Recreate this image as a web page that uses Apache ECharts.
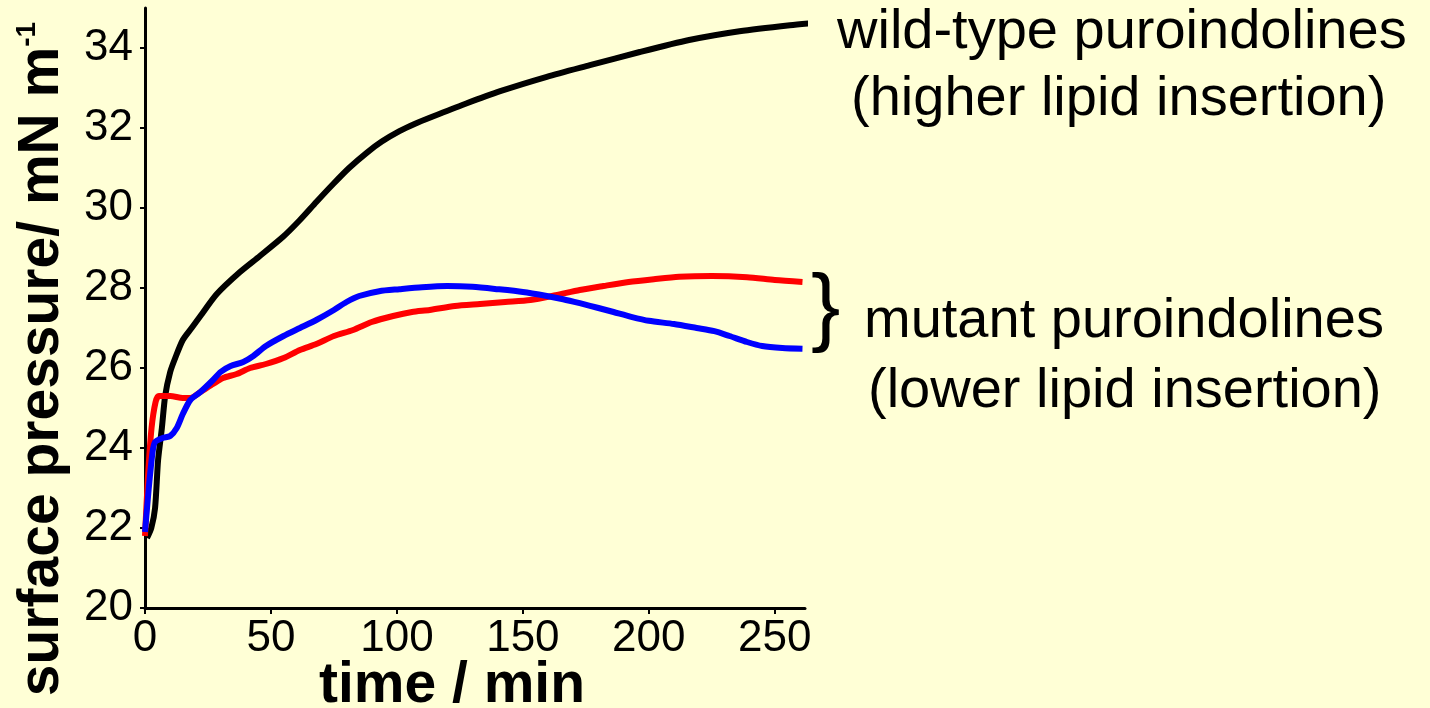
<!DOCTYPE html>
<html>
<head>
<meta charset="utf-8">
<script src="https://cdn.jsdelivr.net/npm/echarts@6/dist/echarts.min.js"></script>
<style>
  html, body { margin: 0; padding: 0; background: #ffffd6; }
  #chart { width: 1430px; height: 708px; }
</style>
</head>
<body>
<div id="chart"></div>
<script>
// ---- data (time in min, surface pressure in mN/m) ----
const xTicks = [0, 50, 100, 150, 200, 250];
const yTicks = [20, 22, 24, 26, 28, 30, 32, 34];

const wildType = [
  [0.8, 21.75], [2.5, 22.0], [4, 22.5], [5.2, 23.7], [6.7, 24.5], [8, 25.3],
  [10, 25.9], [12, 26.25], [15, 26.7], [18.5, 27.0], [22, 27.3], [28.5, 27.85],
  [37.7, 28.4], [45.6, 28.8], [54.8, 29.28], [61.5, 29.7], [68, 30.15],
  [74.7, 30.6], [81, 31.0], [88, 31.38], [94, 31.66], [101, 31.92],
  [107, 32.1], [114, 32.28], [127, 32.6], [141, 32.92], [159.5, 33.28],
  [176.6, 33.57], [196.4, 33.9], [216, 34.2], [236, 34.42], [256, 34.57],
  [268, 34.64]
];

const mutantRed = [
  [0, 21.8], [1.2, 23.3], [2.6, 24.5], [4.2, 25.15], [5.5, 25.3], [10, 25.3],
  [15, 25.25], [18, 25.25], [22, 25.4], [27, 25.6], [31, 25.75], [36.4, 25.85],
  [41.7, 26.0], [48, 26.1], [55, 26.25], [61.5, 26.45], [68, 26.6], [75, 26.8],
  [82.6, 26.95], [90, 27.15], [98.5, 27.3], [106, 27.4], [113, 27.45],
  [123, 27.55], [133, 27.6], [143, 27.65], [153, 27.7], [163, 27.82],
  [172.6, 27.95], [182, 28.05], [192, 28.15], [202, 28.22], [212, 28.28],
  [225, 28.3], [239, 28.27], [250, 28.2], [261, 28.15]
];

const mutantBlue = [
  [0, 21.9], [1.5, 23.0], [3, 23.9], [4, 24.15], [7, 24.25], [10, 24.3],
  [12.6, 24.5], [15, 24.85], [18, 25.2], [22, 25.4], [27, 25.7], [30, 25.9],
  [34, 26.05], [39, 26.15], [43, 26.3], [48, 26.55], [55, 26.8], [61.5, 27.0],
  [68, 27.2], [75, 27.45], [80, 27.65], [85, 27.8], [93, 27.92], [101, 27.97],
  [110, 28.02], [120, 28.05], [130, 28.03], [140, 27.97], [150, 27.9],
  [159.5, 27.8], [166, 27.72], [172.6, 27.62], [180, 27.5], [186, 27.4],
  [193, 27.28], [200, 27.18], [210, 27.1], [219, 27.0], [226, 26.92],
  [232, 26.8], [239, 26.65], [245, 26.55], [253, 26.5], [261, 26.48]
];

const xTitle = 'time / min';
const yTitleMain = 'surface pressure/ mN m';
const yTitleSup = '-1';
const wildLabel = ['wild-type puroindolines', '(higher lipid insertion)'];
const mutantLabel = ['mutant puroindolines', '(lower lipid insertion)'];

// ---- chart ----
const chart = echarts.init(document.getElementById('chart'), null, { renderer: 'canvas' });
const tickFont = { fontFamily: 'Liberation Sans, Arial, sans-serif', fontSize: 44, color: '#000' };
const annFont = 'Liberation Sans, Arial, sans-serif';

const option = {
  backgroundColor: '#ffffd6',
  animation: false,
  grid: { left: 145, right: 625, top: 8, bottom: 100, containLabel: false },
  xAxis: {
    type: 'value', min: 0, max: 262,
    axisLine: { show: true, onZero: false, lineStyle: { color: '#000', width: 3 } },
    axisTick: { show: true, length: 6, customValues: xTicks, lineStyle: { color: '#000', width: 2 } },
    axisLabel: Object.assign({ margin: 9, customValues: xTicks }, tickFont),
    splitLine: { show: false }
  },
  yAxis: {
    type: 'value', min: 20, max: 35,
    axisLine: { show: true, onZero: false, lineStyle: { color: '#000', width: 3 } },
    axisTick: { show: true, length: 5, customValues: yTicks, lineStyle: { color: '#000', width: 2 } },
    axisLabel: Object.assign({ margin: 12, customValues: yTicks }, tickFont),
    splitLine: { show: false }
  },
  series: [
    { name: 'wild-type', type: 'line', data: wildType, showSymbol: false, clip: false,
      smooth: 0.25, lineStyle: { color: '#000000', width: 6 }, z: 2 },
    { name: 'mutant A', type: 'line', data: mutantRed, showSymbol: false,
      smooth: 0.25, lineStyle: { color: '#ff0000', width: 6 }, z: 3 },
    { name: 'mutant B', type: 'line', data: mutantBlue, showSymbol: false,
      smooth: 0.25, lineStyle: { color: '#0000ff', width: 6 }, z: 4 }
  ],
  graphic: [
    { type: 'text', x: 42, y: 359, rotation: Math.PI / 2,
      style: {
        text: '{a|' + yTitleMain + '}{s|' + yTitleSup + '}',
        align: 'center', verticalAlign: 'middle', fill: '#000',
        rich: {
          a: { fontFamily: annFont, fontSize: 57, fontWeight: 'bold', fill: '#000' },
          s: { fontFamily: annFont, fontSize: 28, fontWeight: 'bold', fill: '#000', verticalAlign: 'top' }
        }
      } },
    { type: 'text', x: 452, y: 686,
      style: { text: xTitle, font: 'bold 57px ' + annFont, fill: '#000', align: 'center', verticalAlign: 'middle' } },
    { type: 'text', x: 837, y: 33,
      style: { text: wildLabel[0], font: '56px ' + annFont, fill: '#000', align: 'left', verticalAlign: 'middle' } },
    { type: 'text', x: 851, y: 100,
      style: { text: wildLabel[1], font: '56px ' + annFont, fill: '#000', align: 'left', verticalAlign: 'middle' } },
    { type: 'text', x: 811, y: 311,
      style: { text: '}', font: '88px ' + annFont, fill: '#000', align: 'left', verticalAlign: 'middle' } },
    { type: 'text', x: 864, y: 322,
      style: { text: mutantLabel[0], font: '56px ' + annFont, fill: '#000', align: 'left', verticalAlign: 'middle' } },
    { type: 'text', x: 868, y: 392,
      style: { text: mutantLabel[1], font: '56px ' + annFont, fill: '#000', align: 'left', verticalAlign: 'middle' } }
  ]
};
chart.setOption(option);
</script>
</body>
</html>
